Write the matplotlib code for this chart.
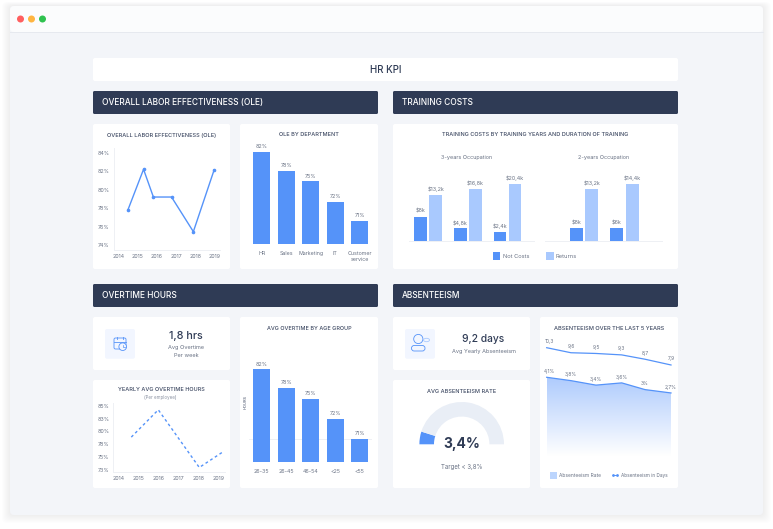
import matplotlib
matplotlib.use('Agg')
import matplotlib.pyplot as plt
from matplotlib.patches import FancyBboxPatch, Rectangle, Circle, Ellipse
from matplotlib.colors import LinearSegmentedColormap
import numpy as np

W, H = 773, 529
BLUE = '#5593f9'
LIGHT = '#a9c9fe'
DARK = '#2f3b55'
TXT = '#3f4a63'
GREY = '#6a7385'
BODY = '#f3f5f9'

ole_years = [2014.49, 2015.3, 2015.81, 2016.75, 2017.88, 2018.95]
ole_values = [77.8, 82.2, 79.2, 79.2, 75.45, 82.1]
year_ticks = [2014, 2015, 2016, 2017, 2018, 2019]
ole_ticks = [74, 76, 78, 80, 82, 84]

dept_names = ['HR', 'Sales', 'Marketing', 'IT', 'Customer\nservice']
dept_values = [82, 79, 77.3, 74.1, 71]
dept_labels = ['82%', '78%', '75%', '72%', '71%']

train_3y_costs = [8.8, 4.6, 3.45]
train_3y_returns = [16.5, 18.5, 20.4]
train_3y_cost_labels = ['$8k', '$4,8k', '$2,4k']
train_3y_return_labels = ['$13,2k', '$16,8k', '$20,4k']
train_2y_costs = [4.6, 4.6]
train_2y_returns = [18.5, 20.4]
train_2y_cost_labels = ['$8k', '$6k']
train_2y_return_labels = ['$13,2k', '$14,4k']

ot_years = [2014.65, 2016.0, 2018.05, 2019.2]
ot_values = [78.9, 84.2, 73.0, 75.95]
ot_ticks = [72.5, 75, 77.5, 80, 82.5, 85]
ot_tick_labels = ['73%', '75%', '78%', '80%', '83%', '85%']

age_groups = ['26-35', '26-45', '46-54', '<25', '<55']
age_values = [82, 79, 77.3, 74.1, 71]
age_labels = ['82%', '78%', '75%', '72%', '71%']

abs_x = [0, 0.97, 1.97, 3.0, 3.93, 4.97]
abs_rate = [4.1, 3.8, 3.4, 3.6, 3.0, 2.7]
abs_rate_labels = ['4,1%', '3,8%', '3,4%', '3,6%', '3%', '2,7%']
abs_days = [10.3, 9.6, 9.5, 9.3, 8.7, 7.9]
abs_days_labels = ['10,3', '9,6', '9,5', '9,3', '8,7', '7,9']

gauge_part = [0.097, 0.903]

plt.rcParams['font.family'] = ['Inter', 'DejaVu Sans']

fig = plt.figure(figsize=(W / 100, H / 100), dpi=100, facecolor='white')

# overlay in pixel coordinates for the page furniture
bg = fig.add_axes([0, 0, 1, 1])
bg.set_xlim(0, W)
bg.set_ylim(H, 0)
bg.axis('off')


def px_axes(x0, y0, x1, y1):
    ax = fig.add_axes([x0 / W, 1 - y1 / H, (x1 - x0) / W, (y1 - y0) / H])
    ax.patch.set_alpha(0)
    return ax


def box(x0, y0, x1, y1, color='white', r=2, **kw):
    p = FancyBboxPatch((x0 + r, y0 + r), x1 - x0 - 2 * r, y1 - y0 - 2 * r,
                       boxstyle='round,pad=%f,rounding_size=%f' % (r, r),
                       fc=color, ec='none', **kw)
    bg.add_patch(p)
    return p


def label(x, y, s, size=5, color=TXT, weight='normal', ha='center', **kw):
    return bg.text(x, y, s, fontsize=size, color=color, fontweight=weight,
                   ha=ha, va='center', **kw)


# window and its soft shadow
for i in range(8, 0, -1):
    box(10 - i, 6 - i * 0.5, 763 + i, 515 + i, color='#5a6a8a', r=5, alpha=0.012)
box(10, 6, 763, 515, color=BODY, r=4)
box(10, 6, 763, 32, color='#fbfcfd', r=4)
bg.plot([10, 763], [32, 32], color='#e6e9ef', lw=0.7)
for cx, c in zip([20.5, 31.5, 42.5], ['#ff5f5f', '#ffb541', '#2fc24f']):
    bg.add_patch(Ellipse((cx, 19), 7, 7, fc=c, ec='none'))

# top banner and section headers
box(93, 58, 678, 81)
label(385.5, 70, 'HR KPI', size=7, color=DARK, weight='medium')
for x0, x1, y0, name in [(93, 378, 91, 'OVERALL LABOR EFFECTIVENESS (OLE)'),
                         (393, 678, 91, 'TRAINING COSTS'),
                         (93, 378, 284, 'OVERTIME HOURS'),
                         (393, 678, 284, 'ABSENTEEISM')]:
    box(x0, y0, x1, y0 + 23, color=DARK, r=1.5)
    label(x0 + 8.5, y0 + 11.5, name, size=6.0, color='white', weight='medium', ha='left')

# cards
for c in [(93, 124, 230, 269), (240, 124, 378, 269), (393, 124, 678, 269),
          (93, 317, 230, 370), (93, 380, 230, 488), (240, 317, 378, 488),
          (393, 317, 530, 370), (393, 380, 530, 488), (540, 317, 678, 488)]:
    box(*c)

label(161.5, 135, 'OVERALL LABOR EFFECTIVENESS (OLE)', size=4.05, weight='medium')
label(309, 135, 'OLE BY DEPARTMENT', size=4.0, weight='medium')
label(535.5, 135, 'TRAINING COSTS BY TRAINING YEARS AND DURATION OF TRAINING', size=4.0, weight='medium')
label(161, 389.5, 'YEARLY AVG OVERTIME HOURS', size=4.0, weight='medium')
label(160.5, 397, '(Per employee)', size=3.2, color='#8a92a2')
label(309, 328.5, 'AVG OVERTIME BY AGE GROUP', size=3.95, weight='medium')
label(461.5, 391.5, 'AVG ABSENTEEISM RATE', size=4.0, weight='medium')
label(609, 328.5, 'ABSENTEEISM OVER THE LAST 5 YEARS', size=4.05, weight='medium')


def style_line_axes(ax):
    for s in ['top', 'right']:
        ax.spines[s].set_visible(False)
    for s in ['left', 'bottom']:
        ax.spines[s].set_color('#eef0f4')
        ax.spines[s].set_linewidth(0.7)
    ax.tick_params(length=0, labelsize=3.8, labelcolor=GREY, pad=3)


# OLE line
ax = px_axes(114, 148, 220, 250)
ax.plot(ole_years, ole_values, color=BLUE, lw=1, marker='o', ms=1.6)
ax.set_xlim(2013.77, 2019.26)
ax.set_ylim(84 - (250 - 152.7) / 9.235, 84 + 4.7 / 9.235)
ax.set_xticks(year_ticks)
ax.set_yticks(ole_ticks)
ax.set_yticklabels(['%d%%' % t for t in ole_ticks])
style_line_axes(ax)


def dept_bars(ax, names, values, labels):
    bars = ax.bar(range(len(values)), values, width=0.68, color=BLUE)
    for b, s in zip(bars, labels):
        ax.text(b.get_x() + b.get_width() / 2, b.get_height() + 0.4, s,
                ha='center', va='bottom', fontsize=3.9, color=GREY)
    ax.set_xlim(-0.5, 4.5)
    ax.set_ylim(67.33, 82 + 7 / 6.27)
    ax.set_xticks(range(len(names)))
    ax.set_xticklabels(names)
    ax.set_yticks([])
    for s in ax.spines.values():
        s.set_visible(False)
    ax.tick_params(length=0, labelsize=3.8, labelcolor=GREY, pad=5)


dept_bars(px_axes(249.4, 145, 372, 244), dept_names, dept_values, dept_labels)

ax = px_axes(249.4, 362, 372, 461.7)
ax.axhline(71, color='#eef0f4', lw=0.7, zorder=0)
dept_bars(ax, age_groups, age_values, age_labels)
label(245.7, 402, 'HOURS', size=2.8, rotation=90)


# training costs
def train_bars(ax, costs, returns, cost_labels, return_labels, xlim):
    x = np.arange(len(costs))
    a = ax.bar(x - 0.19, costs, width=0.32, color=BLUE)
    b = ax.bar(x + 0.19, returns, width=0.32, color=LIGHT)
    for bars, labels in [(a, cost_labels), (b, return_labels)]:
        for r, s in zip(bars, labels):
            ax.text(r.get_x() + r.get_width() / 2, r.get_height() + 1.0, s,
                    ha='center', va='bottom', fontsize=3.9, color=GREY)
    ax.set_xlim(*xlim)
    ax.set_ylim(0, 25)
    ax.set_xticks([])
    ax.set_yticks([])
    for s in ['top', 'left', 'right']:
        ax.spines[s].set_visible(False)
    ax.spines['bottom'].set_color('#eef0f4')
    ax.spines['bottom'].set_linewidth(0.7)


train_bars(px_axes(409, 171, 534, 241.3), train_3y_costs, train_3y_returns,
           train_3y_cost_labels, train_3y_return_labels, (-0.478, 2.667))
train_bars(px_axes(545, 171, 662, 241.3), train_2y_costs, train_2y_returns,
           train_2y_cost_labels, train_2y_return_labels, (-0.963, 1.926))
label(467, 158, '3-years Occupation', size=3.95, color=GREY)
label(603.5, 158, '2-years Occupation', size=3.95, color=GREY)
bg.add_patch(Rectangle((492.7, 252), 7.5, 7.5, fc=BLUE, ec='none'))
label(502.7, 256, 'Not Costs', size=4.1, color=GREY, ha='left')
bg.add_patch(Rectangle((546, 252), 7.5, 7.5, fc=LIGHT, ec='none'))
label(555.7, 256, 'Returns', size=4.1, color=GREY, ha='left')

# overtime KPI
box(105, 329, 135, 358.7, color='#f2f6ff', r=2)
bg.add_patch(FancyBboxPatch((114, 338), 12, 11, boxstyle='round,pad=0,rounding_size=1.5',
                            fc='none', ec=BLUE, lw=0.6))
bg.plot([114, 126], [341.5, 341.5], color=BLUE, lw=0.6)
bg.plot([117, 117], [336.5, 339], color=BLUE, lw=0.6)
bg.plot([123, 123], [336.5, 339], color=BLUE, lw=0.6)
bg.add_patch(Circle((122.7, 346.7), 3.8, fc='#f2f6ff', ec=BLUE, lw=0.6))
bg.plot([122.7, 122.7, 124.5], [344.8, 346.9, 346.9], color=BLUE, lw=0.5)
label(185.5, 336, '1,8 hrs', size=7.8, color=DARK, weight='medium')
label(186.5, 347.7, 'Avg Overtime', size=4.05, color=GREY)
label(186.5, 355.3, 'Per week', size=4.05, color=GREY)

# overtime dashed line
ax = px_axes(113.3, 403, 225, 472.3)
ax.plot(ot_years, ot_values, color=BLUE, lw=1, ls=(0, (2, 2)))
ax.set_xlim(2014 - 5 / 20, 2014 + 106.7 / 20)
ax.set_ylim(85 - (472.3 - 405.7) / 12.87 * 2.5, 85 + 2.7 / 12.87 * 2.5)
ax.set_xticks(year_ticks)
ax.set_yticks(ot_ticks)
ax.set_yticklabels(ot_tick_labels)
style_line_axes(ax)

# absenteeism KPI
box(405, 329, 435, 358.7, color='#f2f6ff', r=2)
bg.add_patch(FancyBboxPatch((411.5, 345.5), 13.5, 5.5, boxstyle='round,pad=0,rounding_size=2.7',
                            fc='#f2f6ff', ec=BLUE, lw=0.6))
bg.add_patch(Circle((418.3, 339), 4.6, fc='#f2f6ff', ec=BLUE, lw=0.6))
bg.add_patch(Ellipse((426.5, 340), 6, 3.4, fc='none', ec=LIGHT, lw=0.6))
label(483, 339, '9,2 days', size=7.4, color=DARK, weight='medium')
label(484, 351.5, 'Avg Yearly Absenteeism', size=4.0, color=GREY)

# gauge
ax = px_axes(419.4, 402, 504, 486.6)
ax.pie(gauge_part + [1], colors=[BLUE, '#e9eef6', 'none'], startangle=180, counterclock=False,
       radius=1, wedgeprops=dict(width=0.345, linewidth=0))
ax.set_xlim(-1, 1)
ax.set_ylim(-1, 1)
label(461.5, 444, '3,4%', size=10, color=DARK, weight='bold')
label(461.5, 466.7, 'Target < 3,8%', size=4.4, color=GREY)

# absenteeism chart, two scales on one plot
ax = px_axes(546.7, 340, 671, 456)
ax.set_xlim(abs_x[0], abs_x[-1])
ax.set_ylim(-2.93, 7.43)
ax.axis('off')
fade = LinearSegmentedColormap.from_list('fade', ['#aecbfd', '#ffffff'])
poly = ax.fill_between(abs_x, abs_rate, -2.93, color='none')
img = ax.imshow(np.linspace(0, 1, 256).reshape(-1, 1), cmap=fade, aspect='auto',
                extent=[abs_x[0], abs_x[-1], -2.93, abs_rate[0]], zorder=1)
img.set_clip_path(poly.get_paths()[0], transform=ax.transData)
ax.set_xlim(abs_x[0], abs_x[-1])
ax.set_ylim(-2.93, 7.43)
ax.plot(abs_x, abs_rate, color=BLUE, lw=0.9, zorder=3, clip_on=False)
for x, y, s in zip(abs_x, abs_rate, abs_rate_labels):
    ax.text(x + 0.12 if x == 0 else x, y + 0.3, s, fontsize=3.5, color=GREY, ha='center', va='bottom')

ax2 = ax.twinx()
ax2.set_ylim(-4.74, 11.37)
ax2.axis('off')
ax2.plot(abs_x, abs_days, color=BLUE, lw=0.9, clip_on=False)
for x, y, s in zip(abs_x, abs_days, abs_days_labels):
    ax2.text(x + 0.12 if x == 0 else x, y + 0.5, s, fontsize=3.5, color=GREY, ha='center', va='bottom')

bg.add_patch(Rectangle((550, 472), 6.5, 6.5, fc='#bcd5fd', ec='none'))
label(559, 475.2, 'Absenteeism Rate', size=3.5, color=GREY, ha='left')
bg.plot([612.7, 617], [475.2, 475.2], color=BLUE, lw=0.7, marker='o', ms=1)
label(620.7, 475.2, 'Absenteeism in Days', size=3.4, color=GREY, ha='left')

fig.savefig('out.png', dpi=100, facecolor='white')
